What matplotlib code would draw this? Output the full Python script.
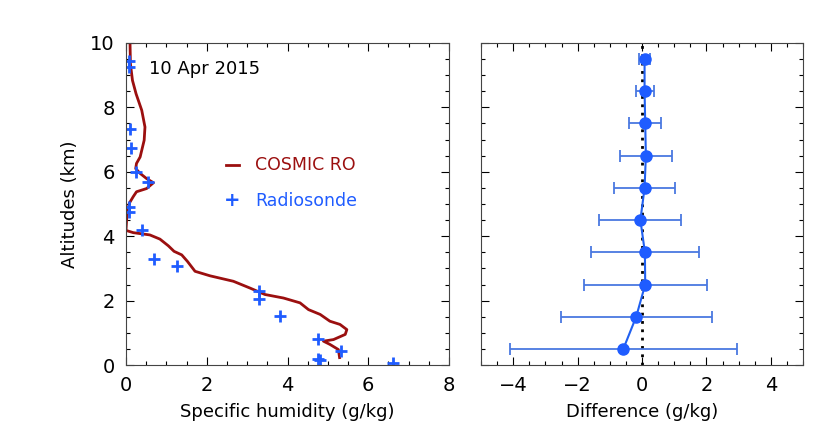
import matplotlib
matplotlib.use('Agg')
import matplotlib.pyplot as plt
from matplotlib.ticker import MultipleLocator
import numpy as np

# COSMIC RO profile (g/kg vs km)
cosmic_q = [0.10, 0.11, 0.16, 0.25, 0.39, 0.47, 0.45, 0.35, 0.26, 0.24, 0.35, 0.51,
            0.68, 0.51, 0.26, 0.18, 0.08, 0.02, 0.00, 0.18, 0.59, 0.84, 1.05, 1.19,
            1.38, 1.52, 1.71, 2.08, 2.66, 3.07, 3.44, 3.90, 4.31, 4.52, 4.81, 5.05,
            5.30, 5.47, 5.43, 5.14, 4.89, 5.05, 5.26, 5.29]
cosmic_alt = [9.97, 9.35, 8.84, 8.42, 7.91, 7.39, 6.98, 6.46, 6.26, 6.10, 5.95, 5.79,
              5.66, 5.48, 5.38, 5.23, 5.02, 4.61, 4.18, 4.11, 4.04, 3.91, 3.70, 3.53,
              3.42, 3.22, 2.91, 2.77, 2.60, 2.39, 2.19, 2.08, 1.93, 1.72, 1.57, 1.36,
              1.26, 1.10, 0.95, 0.79, 0.74, 0.64, 0.48, 0.23]

# Radiosonde
sonde_q = [0.07, 0.08, 0.10, 0.12, 0.24, 0.54, 0.07, 0.07, 0.39, 0.69, 1.27,
           3.29, 3.29, 3.82, 4.76, 5.33, 4.76, 4.81, 6.62]
sonde_alt = [9.45, 9.25, 7.34, 6.75, 6.00, 5.69, 4.92, 4.76, 4.18, 3.29, 3.06,
             2.31, 2.05, 1.52, 0.81, 0.43, 0.18, 0.16, 0.07]

# Difference with std
diff_alt = [9.5, 8.5, 7.5, 6.5, 5.5, 4.5, 3.5, 2.5, 1.5, 0.5]
diff_mean = [0.08, 0.08, 0.10, 0.12, 0.08, -0.05, 0.09, 0.10, -0.18, -0.58]
diff_std = [0.17, 0.28, 0.50, 0.80, 0.95, 1.27, 1.67, 1.91, 2.34, 3.53]

plt.rcParams['font.family'] = 'DejaVu Sans'
plt.rcParams['font.size'] = 12

fig = plt.figure(figsize=(8.31, 4.44), dpi=100)
W, H = 831, 444
ax1 = fig.add_axes([126 / W, 79 / H, 323 / W, 322 / H])
ax2 = fig.add_axes([481 / W, 79 / H, 322 / W, 322 / H])

red = '#9b0f0f'
blue = '#1f5cff'

ax1.plot(cosmic_q, cosmic_alt, color=red, linewidth=2)
ax1.plot(sonde_q, sonde_alt, '+', color=blue, markersize=9, markeredgewidth=2)
ax1.set_xlim(0, 8)
ax1.set_ylim(0, 10)
ax1.set_xlabel('Specific humidity (g/kg)', fontsize=13, labelpad=6)
ax1.set_ylabel('Altitudes (km)', fontsize=13, labelpad=8)
ax1.text(0.07, 0.92, '10 Apr 2015', transform=ax1.transAxes, fontsize=13,
         color='black', va='center', ha='left', fontweight='medium')
ax1.plot([0.31, 0.35], [0.62, 0.62], transform=ax1.transAxes, color=red,
         linewidth=2)
ax1.text(0.40, 0.62, 'COSMIC RO', transform=ax1.transAxes, color=red,
         fontsize=12.5, va='center', ha='left')
ax1.text(0.33, 0.51, '+', transform=ax1.transAxes, color=blue, fontsize=14,
         fontweight='bold', va='center', ha='center')
ax1.text(0.40, 0.51, 'Radiosonde', transform=ax1.transAxes, color=blue,
         fontsize=12.5, va='center', ha='left')

ax2.axvline(0, color='black', linestyle=(0, (1, 2)), linewidth=2)
ax2.errorbar(diff_mean, diff_alt, xerr=diff_std, color='#2060f0', ecolor='#4a78e0',
             elinewidth=1.3, capsize=4, capthick=1.3, marker='o', markersize=8,
             markerfacecolor=blue, markeredgecolor=blue, linewidth=1.5)
ax2.set_xlim(-5, 5)
ax2.set_ylim(0, 10)
ax2.set_xlabel('Difference (g/kg)', fontsize=13, labelpad=6)

for ax in (ax1, ax2):
    ax.yaxis.set_major_locator(MultipleLocator(2))
    ax.yaxis.set_minor_locator(MultipleLocator(0.5))
    ax.xaxis.set_major_locator(MultipleLocator(2))
    ax.xaxis.set_minor_locator(MultipleLocator(0.5))
    ax.tick_params(which='both', direction='in', top=True, right=True,
                   labelsize=14, pad=8)
    ax.tick_params(which='major', length=6, width=0.8)
    ax.tick_params(which='minor', length=3, width=0.8)
    for s in ax.spines.values():
        s.set_color('#444444')
        s.set_linewidth(0.8)

ax2.tick_params(which='both', labelleft=False)

fig.savefig('out.png', dpi=100)
